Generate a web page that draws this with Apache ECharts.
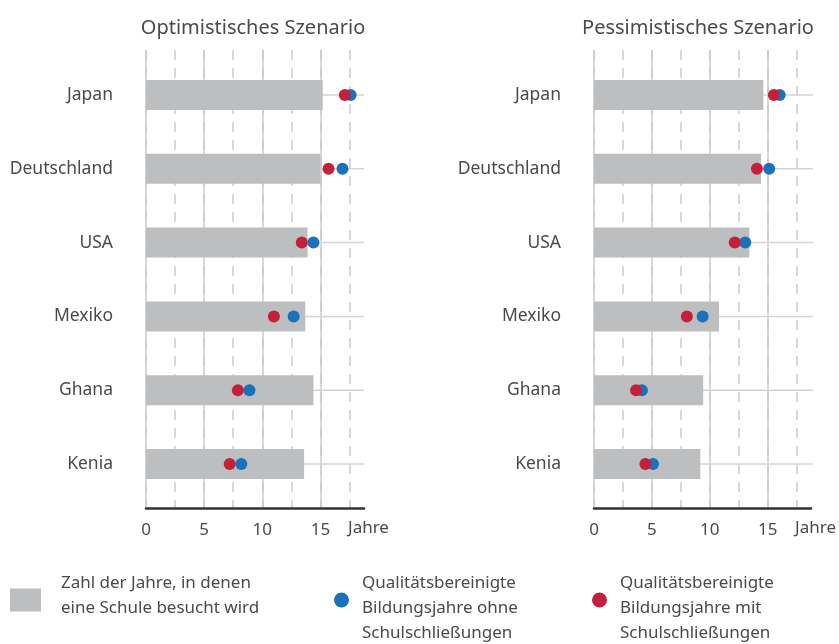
<!DOCTYPE html>
<html>
<head>
<meta charset="utf-8">
<script src="https://cdn.jsdelivr.net/npm/echarts@6/dist/echarts.min.js"></script>
<style>
html,body{margin:0;padding:0;background:#fff;}
#chart{width:839px;height:644px;}
</style>
</head>
<body>
<div id="chart"></div>
<script>
const categories = ['Japan', 'Deutschland', 'USA', 'Mexiko', 'Ghana', 'Kenia'];
const panelTitles = ['Optimistisches Szenario', 'Pessimistisches Szenario'];
// Optimistic scenario
const optSchoolYears = [15.2, 15.0, 13.9, 13.7, 14.4, 13.6];
const optWithoutClosure = [17.6, 16.9, 14.4, 12.7, 8.9, 8.2];
const optWithClosure = [17.1, 15.7, 13.4, 11.0, 7.9, 7.2];
// Pessimistic scenario
const pesSchoolYears = [14.5, 14.3, 13.3, 10.7, 9.35, 9.1];
const pesWithoutClosure = [15.9, 15.0, 12.95, 9.3, 4.1, 5.05];
const pesWithClosure = [15.4, 13.95, 12.05, 7.95, 3.6, 4.4];
const axisMax = 18.75;
const axisUnit = 'Jahre';
const legendNames = ['Zahl der Jahre, in denen\neine Schule besucht wird',
  'Qualitätsbereinigte\nBildungsjahre ohne\nSchulschließungen',
  'Qualitätsbereinigte\nBildungsjahre mit\nSchulschließungen'];

const FONT = '"Noto Sans", sans-serif';
const TXT = '#4a4a4a';
const GREY = '#bdbec0';
const BLUE = '#1a72bb';
const RED = '#c5203b';
const GRIDC = '#cbcbcb';

const panels = [
  {left: 146, right: 475, school: optSchoolYears, without: optWithoutClosure, withc: optWithClosure},
  {left: 594, right: 26, school: pesSchoolYears, without: pesWithoutClosure, withc: pesWithClosure}
];

const grid = [], xAxis = [], yAxis = [], series = [];
panels.forEach((p, i) => {
  const fg = grid.length;
  grid.push({left: p.left, right: p.right, top: 50, bottom: 136});
  const dg = grid.length;
  grid.push({left: p.left, right: p.right, top: 58, bottom: 143});
  xAxis.push({type: 'value', gridIndex: fg, position: 'bottom', min: 0, max: axisMax, interval: 2.5,
    axisLine: {show: false}, axisTick: {show: false}, axisLabel: {show: false},
    splitLine: {show: true, showMaxLine: false, lineStyle: {color: GRIDC, width: 1.5, type: [10, 8]}}});
  xAxis.push({type: 'value', gridIndex: fg, position: 'bottom', min: 0, max: axisMax, interval: 5,
    axisLine: {show: true, onZero: false, lineStyle: {color: '#333', width: 2.5}},
    axisTick: {show: false},
    axisLabel: {show: true, showMaxLabel: false, color: TXT, fontFamily: FONT, fontSize: 17, margin: 14},
    splitLine: {show: true, showMaxLine: false, lineStyle: {color: GRIDC, width: 1.5, type: 'solid'}},
    name: axisUnit, nameLocation: 'end', nameGap: -16,
    nameTextStyle: {color: TXT, fontFamily: FONT, fontSize: 17, verticalAlign: 'top', align: 'left', padding: [12, 0, 0, 0]}});
  yAxis.push({type: 'category', gridIndex: fg, data: categories, inverse: true, show: false});
  const dx = xAxis.length;
  xAxis.push({type: 'value', gridIndex: dg, position: 'bottom', min: 0, max: axisMax, show: false, splitLine: {show: false}});
  const dy = yAxis.length;
  yAxis.push({type: 'category', gridIndex: dg, data: categories, inverse: true,
    axisLine: {show: false}, axisTick: {show: false}, splitLine: {show: false},
    axisLabel: {color: TXT, fontFamily: FONT, fontSize: 17.5, margin: 33, padding: [4, 0, 0, 0]}});
  const ry = yAxis.length;
  yAxis.push({type: 'category', gridIndex: dg, data: categories, inverse: true, show: false});
  series.push({type: 'bar', name: 'ref', xAxisIndex: dx, yAxisIndex: ry, silent: true,
    data: categories.map(() => axisMax), barWidth: 1.5,
    itemStyle: {color: '#d4d4d4'}, z: 1});
  series.push({type: 'bar', name: legendNames[0], xAxisIndex: dx, yAxisIndex: dy,
    data: p.school, barWidth: 30, itemStyle: {color: GREY}, z: 2});
  series.push({type: 'scatter', name: legendNames[1], xAxisIndex: dx, yAxisIndex: dy,
    data: p.without, symbolSize: 12, itemStyle: {color: BLUE, opacity: 1}, z: 3});
  series.push({type: 'scatter', name: legendNames[2], xAxisIndex: dx, yAxisIndex: dy,
    data: p.withc, symbolSize: 12, itemStyle: {color: RED, opacity: 1}, z: 4});
});

function richLegend(name, topGap, bottomGap) {
  const lines = name.split('\n').map(l => '{a|' + l + '}');
  if (topGap) lines.unshift('{s|}');
  if (bottomGap) lines.push('{b|}');
  return lines.join('\n');
}
function legendRich(topGap, bottomGap, leftPad) {
  return {
    a: {color: TXT, fontFamily: FONT, fontSize: 17, lineHeight: 25, padding: [0, 0, 0, leftPad]},
    s: {lineHeight: topGap || 1, fontSize: 1},
    b: {lineHeight: bottomGap || 1, fontSize: 1}
  };
}
const option = {
  animation: false,
  title: [
    {text: panelTitles[0], left: 248, top: 13, textAlign: 'center',
      textStyle: {color: TXT, fontFamily: FONT, fontSize: 20, fontWeight: 'normal'}},
    {text: panelTitles[1], left: 693, top: 13, textAlign: 'center',
      textStyle: {color: TXT, fontFamily: FONT, fontSize: 20, fontWeight: 'normal'}}
  ],
  legend: [
    {data: [{name: legendNames[0], icon: 'rect'}], left: 10, top: 575, padding: 0, itemWidth: 31, itemHeight: 23,
      selectedMode: false, formatter: n => richLegend(n, 0, 8),
      textStyle: {rich: legendRich(0, 8, 15)}},
    {data: [{name: legendNames[1], icon: 'circle'}], left: 334, top: 562, padding: 0, itemWidth: 15, itemHeight: 15,
      selectedMode: false, formatter: n => richLegend(n, 16, 0),
      textStyle: {rich: legendRich(16, 0, 8)}},
    {data: [{name: legendNames[2], icon: 'circle'}], left: 592, top: 562, padding: 0, itemWidth: 15, itemHeight: 15,
      selectedMode: false, formatter: n => richLegend(n, 16, 0),
      textStyle: {rich: legendRich(16, 0, 8)}}
  ],
  grid: grid,
  xAxis: xAxis,
  yAxis: yAxis,
  series: series
};
const chart = echarts.init(document.getElementById('chart'), null, {renderer: 'canvas'});
chart.setOption(option);
</script>
</body>
</html>
